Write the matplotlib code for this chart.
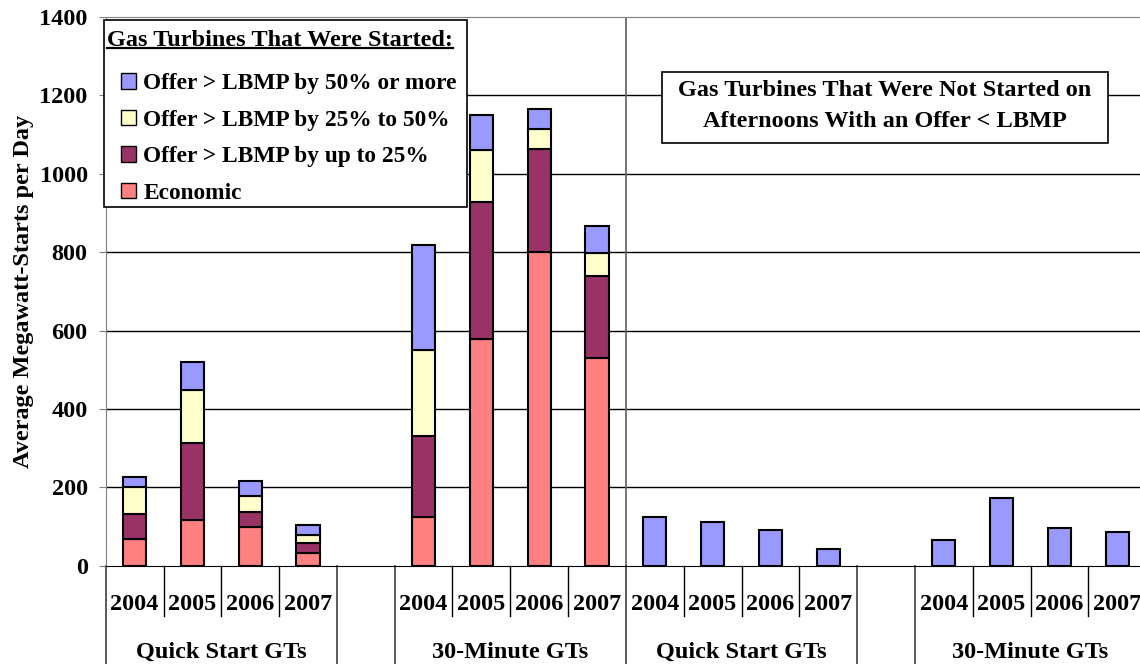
import numpy as np
import matplotlib
matplotlib.use("Agg")
import matplotlib.pyplot as plt
from matplotlib.patches import Patch, Rectangle
from matplotlib.lines import Line2D

# ---------------------------------------------------------------- data
years = ["2004", "2005", "2006", "2007"]
groups = ["Quick Start GTs", "30-Minute GTs", "Quick Start GTs", "30-Minute GTs"]

# started units (stacked segments), per year
economic_qs = [67, 117, 100, 33]
economic_30 = [124, 578, 800, 530]
up_to_25_qs = [65, 196, 37, 24]
up_to_25_30 = [206, 350, 262, 208]
pct_25_50_qs = [70, 136, 42, 21]
pct_25_50_30 = [221, 132, 53, 59]
over_50_qs = [25, 71, 36, 27]
over_50_30 = [266, 90, 50, 69]

# units not started although offer < LBMP
not_started_qs = [124, 112, 91, 43]
not_started_30 = [66, 172, 96, 87]

series_labels = ["Economic", "Offer > LBMP by up to 25%",
                 "Offer > LBMP by 25% to 50%", "Offer > LBMP by 50% or more"]
colors = ["#FF8080", "#993366", "#FFFFCC", "#9999FF"]

# slot layout: 4 years, blank, 4 years | 4 years, blank, 4 years
group_start = [0, 5, 9, 14]

plt.rcParams["font.family"] = ["Liberation Serif", "DejaVu Serif"]
plt.rcParams["font.weight"] = "bold"

W, H = 1140, 664
AX_L, AX_B, AX_T = 105.7, 565.7, 17.0
fig = plt.figure(figsize=(W / 100, H / 100), dpi=100)
ax = fig.add_axes([AX_L / W, 1 - AX_B / H, 1 - AX_L / W, (AX_B - AX_T) / H])


def to_ax(px, py):
    """pixel position in the picture -> axes fraction"""
    return (px - AX_L) / (W - AX_L), (AX_B - py) / (AX_B - AX_T)


bw = 0.40
fs = 17.5

def xs(g):
    return np.arange(len(years)) + group_start[g] + 0.5

# started: stacked bars
stacks = [
    (economic_qs, up_to_25_qs, pct_25_50_qs, over_50_qs),
    (economic_30, up_to_25_30, pct_25_50_30, over_50_30),
]
for g, segs in enumerate(stacks):
    bottom = np.zeros(len(years))
    for vals, c in zip(segs, colors):
        ax.bar(xs(g), vals, bw, bottom=bottom, color=c, edgecolor="black",
               linewidth=1.5, zorder=3)
        bottom += np.array(vals)

# not started: single bars
for g, vals in zip([2, 3], [not_started_qs, not_started_30]):
    ax.bar(xs(g), vals, bw, color=colors[3], edgecolor="black",
           linewidth=1.5, zorder=3)

ax.set_xlim(0, (W - AX_L) / 57.8)
ax.set_ylim(0, 1400)
ax.set_yticks(np.arange(0, 1401, 200))
ax.tick_params(axis="y", labelsize=fs, length=5, color="#808080", pad=8)
ax.set_xticks([])
for t in ax.get_yticklabels():
    t.set_fontweight("bold")
ax.set_ylabel("Average Megawatt-Starts per Day", fontsize=fs,
              fontweight="bold", labelpad=4)

for y in range(200, 1400, 200):
    ax.axhline(y, color="black", linewidth=1, zorder=1)
ax.spines["right"].set_visible(False)
ax.spines["top"].set_color("#808080")
ax.spines["left"].set_color("#808080")
ax.spines["bottom"].set_color("black")
ax.spines["bottom"].set_zorder(4)

# divider between the two sub-charts
ax.axvline(9, color="#606060", linewidth=1.2, zorder=2)

# category table under the axis
trans = ax.get_xaxis_transform()
long_lines = [0, 4, 5, 9, 13, 14]
for g in range(4):
    for i in range(1, 4):
        ax.add_line(Line2D([group_start[g] + i] * 2, [0, -0.092], transform=trans,
                           color="black", linewidth=1, clip_on=False))
    for i, yr in enumerate(years):
        ax.text(group_start[g] + i + 0.5, -0.071, yr, transform=trans,
                ha="center", va="center", fontsize=fs, fontweight="bold")
    ax.text(group_start[g] + 2, -0.158, groups[g], transform=trans,
            ha="center", va="center", fontsize=fs, fontweight="bold")
for x in long_lines:
    ax.add_line(Line2D([x, x], [0, -0.2], transform=trans,
                       color="#404040", linewidth=1.2, clip_on=False))

# legend: frame + underlined title drawn by hand, entries by ax.legend
x0, y0 = to_ax(104, 207)
x1, y1 = to_ax(467, 20)
ax.add_patch(Rectangle((x0, y0), x1 - x0, y1 - y0, transform=ax.transAxes,
                       facecolor="white", edgecolor="black", linewidth=1.2,
                       zorder=5, clip_on=False))
title = ax.text(*to_ax(107, 40), "Gas Turbines That Were Started:",
                transform=ax.transAxes, ha="left", va="center", fontsize=fs,
                fontweight="bold", zorder=6)

handles = [Patch(facecolor=c, edgecolor="black", label=l)
           for c, l in zip(colors, series_labels)][::-1]
leg = ax.legend(handles=handles, loc="upper left", bbox_to_anchor=to_ax(121, 73),
                prop={"size": 16.8, "weight": "bold"}, frameon=False,
                handlelength=0.65, handleheight=0.65, handletextpad=0.3,
                labelspacing=0.67, borderpad=0, borderaxespad=0)
leg.set_zorder(6)

# box for the not-started bars
bx0, by0 = to_ax(662, 143)
bx1, by1 = to_ax(1108, 72)
ax.add_patch(Rectangle((bx0, by0), bx1 - bx0, by1 - by0, transform=ax.transAxes,
                       facecolor="white", edgecolor="black", linewidth=1.2, zorder=5))
ax.text(*to_ax(885, 106), "Gas Turbines That Were Not Started on\nAfternoons With an Offer < LBMP",
        transform=ax.transAxes, ha="center", va="center", fontsize=fs,
        fontweight="bold", linespacing=1.6, zorder=6)

# underline the legend title
fig.canvas.draw()
bb = title.get_window_extent().transformed(fig.transFigure.inverted())
fig.add_artist(Line2D([bb.x0, bb.x1], [bb.y0 + 0.004, bb.y0 + 0.004],
                      transform=fig.transFigure, color="black", linewidth=1.6,
                      zorder=7))

fig.savefig("out.png", dpi=100)
